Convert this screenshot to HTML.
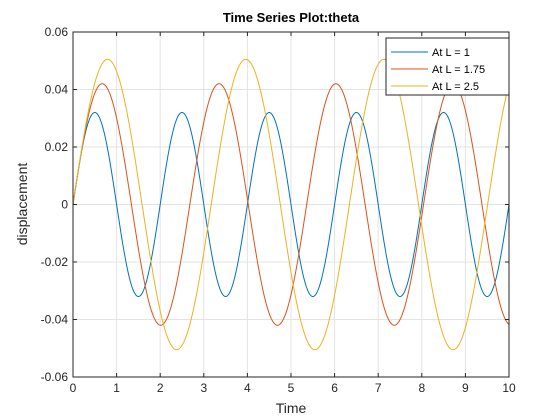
<!DOCTYPE html>
<html><head><meta charset="utf-8"><style>
body{margin:0;background:#fff;}
svg{display:block;font-family:"Liberation Sans",Arial,sans-serif;}
</style></head><body>
<svg id="chart" width="560" height="420" viewBox="0 0 560 420">
<rect width="560" height="420" fill="#fff"/>
<rect x="73" y="32" width="436" height="345" fill="#fff"/>
<g id="grid"></g>
<g id="series"></g>
<rect x="73" y="32" width="436" height="345" fill="none" stroke="#262626" stroke-width="1"/>
<g id="ticks"></g>
<text x="291" y="22" text-anchor="middle" font-size="13" font-weight="bold" fill="#000">Time Series Plot:theta</text>
<text x="291" y="413" text-anchor="middle" font-size="14" fill="#262626">Time</text>
<text transform="translate(27,204) rotate(-90)" text-anchor="middle" font-size="14" fill="#262626">displacement</text>
<g id="legend"></g>
</svg>
<script>
const xTicks=[0,1,2,3,4,5,6,7,8,9,10];
const yTicks=[-0.06,-0.04,-0.02,0,0.02,0.04,0.06];
const yTickLabels=["-0.06","-0.04","-0.02","0","0.02","0.04","0.06"];
const seriesNames=["At L = 1","At L = 1.75","At L = 2.5"];
const amplitudes=[0.032,0.042,0.0505];
const periods=[2.0,2.68,3.17];
const colors=["#0072BD","#D95319","#EDB120"];
const x0=73,x1=509,y0=377,y1=32;
const xs=v=>x0+(v-0)/(10-0)*(x1-x0);
const ys=v=>y0-(v+0.06)/0.12*(y0-y1);
const NS="http://www.w3.org/2000/svg";
const grid=document.getElementById('grid'),ticks=document.getElementById('ticks');
function mk(tag,attrs,parent){const e=document.createElementNS(NS,tag);for(const k in attrs)e.setAttribute(k,attrs[k]);parent.appendChild(e);return e;}
xTicks.forEach(t=>{const x=xs(t);
 const g=mk('line',{x1:x,x2:x,y1:y1,y2:y0,stroke:'#e3e3e3','stroke-width':1},grid);
 
 
 const tk=mk('line',{x1:x,x2:x,y1:y0,y2:y0-4,stroke:'#262626'},ticks);
 
 
 const tk2=mk('line',{x1:x,x2:x,y1:y1,y2:y1+4,stroke:'#262626'},ticks);
 
 
 const l=mk('text',{x:x,y:y0+15,'text-anchor':'middle','font-size':12,fill:'#262626'},ticks);
 l.textContent=t;
 
 
});
yTicks.forEach((t,i)=>{const y=ys(t);
 const g=mk('line',{x1:x0,x2:x1,y1:y,y2:y,stroke:'#e3e3e3','stroke-width':1},grid);
 
 
 const tk=mk('line',{x1:x0,x2:x0+4,y1:y,y2:y,stroke:'#262626'},ticks);
 
 
 const tk2=mk('line',{x1:x1,x2:x1-4,y1:y,y2:y,stroke:'#262626'},ticks);
 
 
 const l=mk('text',{x:x0-5,y:y+4,'text-anchor':'end','font-size':12,fill:'#262626'},ticks);
 l.textContent=yTickLabels[i];
 
 
});
const sg=document.getElementById('series');
amplitudes.forEach((a,i)=>{let d='';
 for(let k=0;k<=1000;k++){const t=k/100;const v=a*Math.sin(2*Math.PI*t/periods[i]);d+=(k?'L':'M')+xs(t).toFixed(2)+','+ys(v).toFixed(2);}
 const p=mk('path',{d:d,fill:'none',stroke:colors[i],'stroke-width':1},sg);
 
 
});
const lg=document.getElementById('legend');
const box=mk('rect',{x:386,y:38,width:123,height:57,fill:'#fff',stroke:'#262626','stroke-width':1},lg);


seriesNames.forEach((n,i)=>{const y=52+i*17;
 const ln=mk('line',{x1:391,x2:428,y1:y,y2:y,stroke:colors[i],'stroke-width':1},lg);
 
 
 const t=mk('text',{x:432,y:y+4,'font-size':11,fill:'#000'},lg);
 t.textContent=n;
 
 
});
</script>
</body></html>
